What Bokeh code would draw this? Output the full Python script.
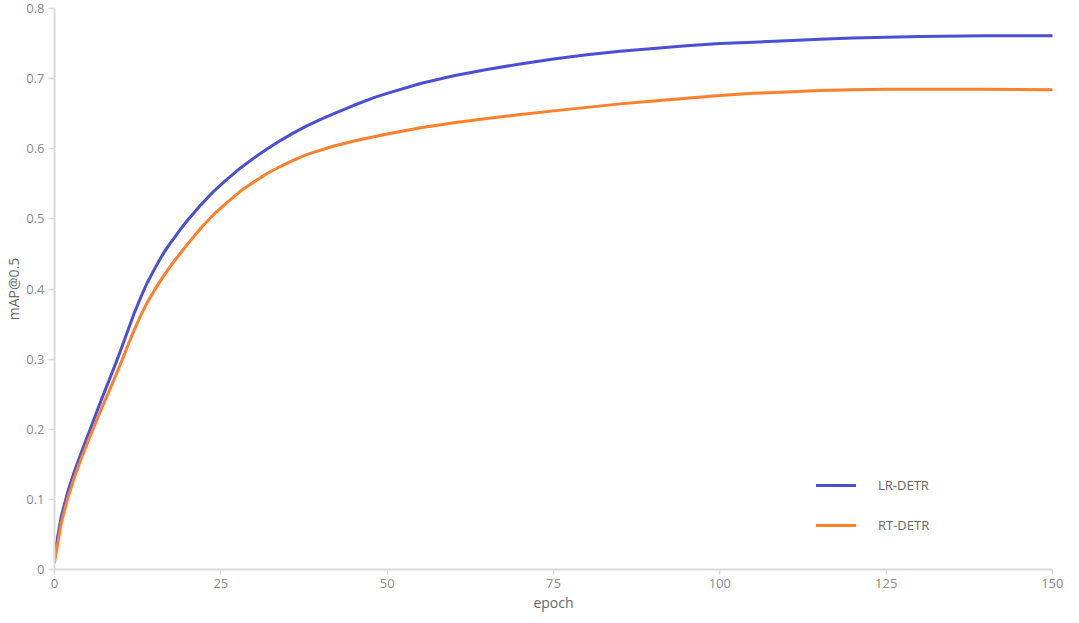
from bokeh.plotting import figure
from bokeh.models import FixedTicker, Range1d, Legend, LegendItem
from bokeh.embed import file_html
from bokeh.resources import INLINE

epochs = [0, 1, 2, 3, 4, 5, 6, 7, 8, 9, 10, 11, 12, 13, 14, 15, 16, 17, 18, 19, 20,
          22, 24, 26, 28, 30, 32, 34, 36, 38, 40, 42, 45, 48, 50,
          55, 60, 65, 70, 75, 80, 85, 90, 95, 100, 105, 110, 115, 120, 125, 130,
          140, 150]
lr_detr = [0.021, 0.075, 0.111, 0.140, 0.166, 0.191, 0.216, 0.241, 0.265, 0.289,
           0.314, 0.340, 0.366, 0.389, 0.410, 0.428, 0.445, 0.460, 0.473, 0.486,
           0.498,
           0.520, 0.540, 0.557, 0.573, 0.587, 0.600, 0.612, 0.623, 0.633, 0.642,
           0.650, 0.662, 0.673, 0.679,
           0.693, 0.704, 0.713, 0.721, 0.728, 0.734, 0.739, 0.743, 0.747, 0.750,
           0.752, 0.754, 0.756, 0.758, 0.759, 0.760,
           0.761, 0.761]
rt_detr = [0.010, 0.066, 0.102, 0.132, 0.158, 0.182, 0.205, 0.228, 0.250, 0.272,
           0.295, 0.319, 0.342, 0.363, 0.382, 0.398, 0.413, 0.427, 0.440, 0.452,
           0.464,
           0.487, 0.507, 0.524, 0.540, 0.553, 0.565, 0.575, 0.584, 0.592, 0.598,
           0.604, 0.611, 0.617, 0.621,
           0.630, 0.637, 0.643, 0.649, 0.654, 0.659, 0.664, 0.668, 0.672, 0.676,
           0.679, 0.681, 0.683, 0.684, 0.685, 0.685,
           0.685, 0.684]

x_ticks = [0, 25, 50, 75, 100, 125, 150]
y_ticks = [0, 0.1, 0.2, 0.3, 0.4, 0.5, 0.6, 0.7, 0.8]
y_tick_labels = ["0", "0.1", "0.2", "0.3", "0.4", "0.5", "0.6", "0.7", "0.8"]
series_names = ["LR-DETR", "RT-DETR"]

FONT = "Open Sans"

p = figure(width=1063, height=615, output_backend="svg", toolbar_location=None,
           x_range=Range1d(0, 150), y_range=Range1d(0, 0.8),
           min_border_left=54, min_border_right=11, min_border_top=8,
           min_border_bottom=46)
p.outline_line_color = None
p.grid.grid_line_color = None
p.background_fill_color = "white"

r1 = p.line(epochs, lr_detr, line_color="#4a4fd6", line_width=3, line_join="round", line_cap="round")
r2 = p.line(epochs, rt_detr, line_color="#ff7f2a", line_width=3, line_join="round", line_cap="round")

for ax in (p.xaxis[0], p.yaxis[0]):
    ax.axis_line_color = "#d9d9d9"
    ax.axis_line_width = 2
    ax.major_tick_line_color = "#d9d9d9"
    ax.major_tick_line_width = 1.5
    ax.minor_tick_line_color = None
    ax.major_tick_in = 0
    ax.major_label_text_font = FONT
    ax.major_label_text_font_size = "13px"
    ax.major_label_text_color = "#8a8a8a"
    ax.axis_label_text_font = FONT
    ax.axis_label_text_font_size = "14px"
    ax.axis_label_text_font_style = "normal"
    ax.axis_label_text_color = "#666666"

p.xaxis.ticker = FixedTicker(ticks=x_ticks)
p.yaxis.ticker = FixedTicker(ticks=y_ticks)
p.yaxis.major_label_overrides = {t: s for t, s in zip(y_ticks, y_tick_labels)}
p.xaxis.axis_label = "epoch"
p.yaxis.axis_label = "mAP@0.5"
p.xaxis.major_tick_out = 5
p.yaxis.major_tick_out = 6
p.xaxis.major_label_standoff = 4
p.xaxis.axis_label_standoff = 2
p.yaxis.major_label_standoff = 4
p.yaxis.axis_label_standoff = 0

legend = Legend(items=[LegendItem(label=series_names[0], renderers=[r1]),
                       LegendItem(label=series_names[1], renderers=[r2])],
                location=(762, 34))
legend.border_line_color = None
legend.background_fill_alpha = 0
legend.padding = 0
legend.margin = 0
legend.spacing = 20
legend.glyph_width = 40
legend.glyph_height = 20
legend.label_standoff = 22
legend.label_text_font = FONT
legend.label_text_font_size = "13px"
legend.label_text_color = "#666666"
legend.label_height = 20
p.add_layout(legend, "center")

open("out.html", "w").write(file_html(p, INLINE))
